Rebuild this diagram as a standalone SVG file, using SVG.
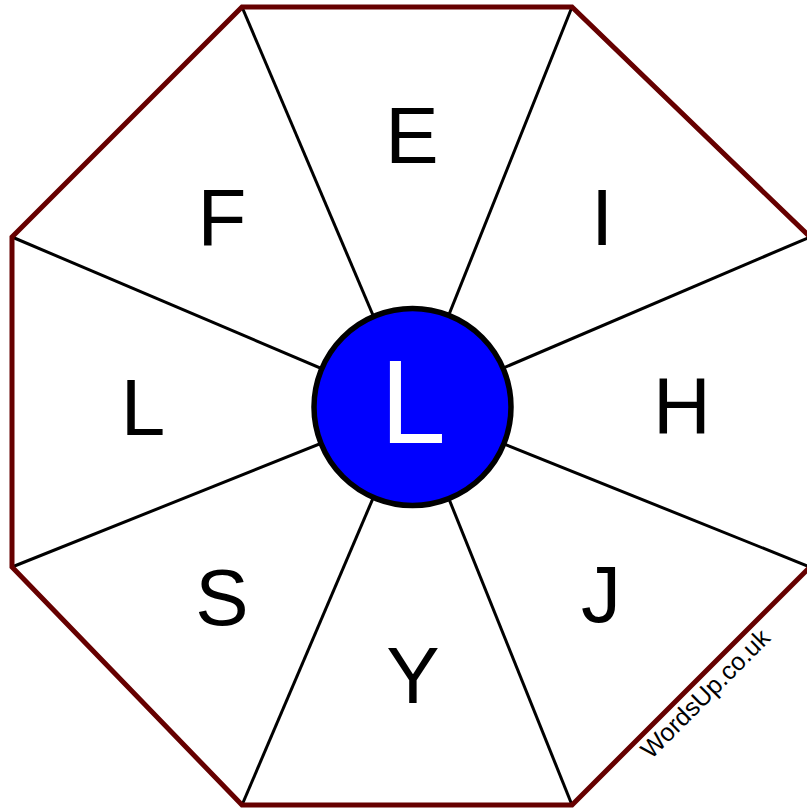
<svg xmlns="http://www.w3.org/2000/svg" width="807" height="810" viewBox="0 0 807 810">
<style>
.spoke{stroke:#000;stroke-width:3;fill:none}
.letter{font-family:"Liberation Sans",Arial,sans-serif;font-size:80px;fill:#000;text-anchor:middle}
.center{font-family:"Liberation Sans",Arial,sans-serif;font-size:118px;fill:#fff;text-anchor:middle}
.mark{font-family:"Liberation Sans",Arial,sans-serif;font-size:25px;fill:#000}
</style>
<rect width="807" height="810" fill="#fff"/>
<g id="connectors">
<line class="spoke" x1="412" y1="407" x2="242" y2="7"/>
<line class="spoke" x1="412" y1="407" x2="572" y2="7"/>
<line class="spoke" x1="412" y1="407" x2="810" y2="237"/>
<line class="spoke" x1="412" y1="407" x2="810" y2="567"/>
<line class="spoke" x1="412" y1="407" x2="572" y2="805"/>
<line class="spoke" x1="412" y1="407" x2="242" y2="805"/>
<line class="spoke" x1="412" y1="407" x2="12" y2="567"/>
<line class="spoke" x1="412" y1="407" x2="12" y2="237"/>
</g>
<g id="octagon">
<polygon points="242,7 572,7 810,237 810,567 572,805 242,805 12,567 12,237" fill="none" stroke="#660000" stroke-width="5" stroke-linejoin="miter"/>
</g>
<g id="seg-E"><text class="letter" x="412" y="163">E</text></g>
<g id="seg-I"><text class="letter" x="602" y="245">I</text></g>
<g id="seg-H"><text class="letter" x="682" y="433">H</text></g>
<g id="seg-J"><text class="letter" x="601" y="622">J</text></g>
<g id="seg-Y"><text class="letter" x="413" y="703">Y</text></g>
<g id="seg-S"><text class="letter" x="222" y="625">S</text></g>
<g id="seg-L"><text class="letter" x="143" y="435">L</text></g>
<g id="seg-F"><text class="letter" x="222" y="245">F</text></g>
<g id="hub">
<circle cx="412.5" cy="407" r="98.5" fill="#0000ff" stroke="#000" stroke-width="5.5"/>
<text class="center" x="413" y="443">L</text>
</g>
<text class="mark" x="651" y="760" transform="rotate(-45 651 760)">WordsUp.co.uk</text>
</svg>
